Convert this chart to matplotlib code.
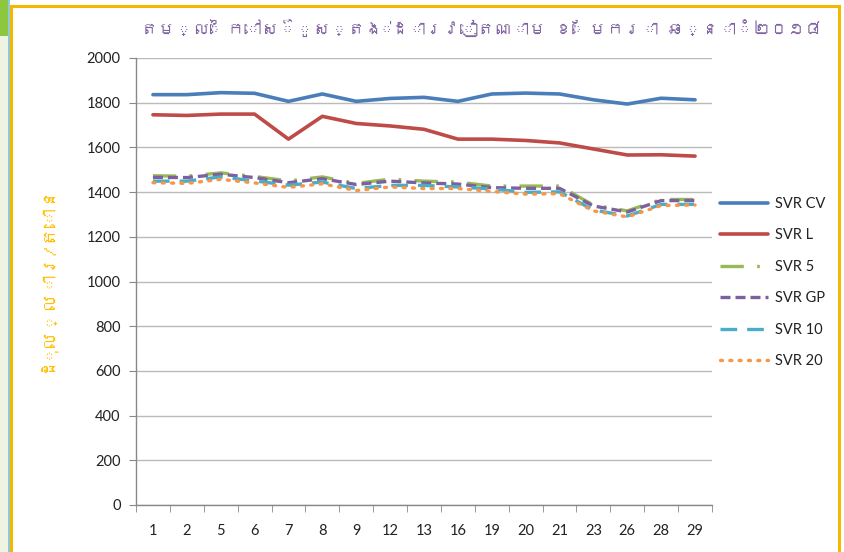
import matplotlib
matplotlib.use("Agg")
import matplotlib.pyplot as plt
from matplotlib import font_manager
from matplotlib.patches import Rectangle
from matplotlib.ft2font import FT2Font

days = ["1", "2", "5", "6", "7", "8", "9", "12", "13", "16", "19", "20", "21", "23", "26", "28", "29"]
svr_cv = [1836, 1836, 1845, 1842, 1806, 1839, 1806, 1819, 1824, 1806, 1839, 1843, 1839, 1813, 1794, 1820, 1813]
svr_l = [1746, 1743, 1749, 1749, 1637, 1739, 1707, 1696, 1681, 1637, 1637, 1631, 1620, 1593, 1566, 1567, 1561]
svr_5 = [1473, 1471, 1486, 1470, 1450, 1468, 1439, 1458, 1449, 1445, 1427, 1427, 1427, 1342, 1316, 1367, 1367]
svr_gp = [1466, 1465, 1480, 1465, 1442, 1460, 1434, 1449, 1441, 1436, 1420, 1417, 1417, 1338, 1311, 1362, 1362]
svr_10 = [1449, 1449, 1468, 1450, 1431, 1445, 1416, 1430, 1430, 1423, 1414, 1399, 1401, 1320, 1293, 1345, 1345]
svr_20 = [1442, 1439, 1457, 1441, 1421, 1437, 1407, 1423, 1416, 1416, 1403, 1391, 1393, 1316, 1289, 1340, 1342]
series_names = ["SVR CV", "SVR L", "SVR 5", "SVR GP", "SVR 10", "SVR 20"]
y_ticks = [0, 200, 400, 600, 800, 1000, 1200, 1400, 1600, 1800, 2000]
title = "តម្លៃកៅស៊ូស្តង់ដារវៀតណាម ខែមករា ឆ្នាំ២០១៨"
ylabel = "ដុល្លារ/តោន"

# find a font with Khmer glyphs if any is installed
khmer_family = None
for f in font_manager.findSystemFonts():
    try:
        ft = FT2Font(f)
        cm = ft.get_charmap()
        if 0x1780 in cm and 0x17D2 in cm:
            khmer_family = font_manager.FontProperties(fname=f).get_name()
            font_manager.fontManager.addfont(f)
            break
    except Exception:
        pass
kfam = [khmer_family, "DejaVu Sans"] if khmer_family else ["DejaVu Sans"]

plt.rcParams["font.family"] = ["Lato", "DejaVu Sans"]

fig = plt.figure(figsize=(8.45, 5.52), dpi=100)
fig.patch.set_facecolor("white")
ax = fig.add_axes([136 / 845, 47 / 552, 576 / 845, 447 / 552])

x = list(range(len(days)))
styles = [
    dict(color="#4A7EBB", lw=2.6, ls="-"),
    dict(color="#BE4B48", lw=2.6, ls="-"),
    dict(color="#98B954", lw=2.4, ls=(0, (7, 4, 0.8, 4))),
    dict(color="#7D60A0", lw=2.4, ls=(0, (3, 1.5))),
    dict(color="#4BACC6", lw=2.4, ls=(0, (5, 3))),
    dict(color="#F79646", lw=2.4, ls=(0, (0.6, 2.2)), dash_capstyle="round"),
]
for vals, name, st in zip([svr_cv, svr_l, svr_5, svr_gp, svr_10, svr_20], series_names, styles):
    ax.plot(x, vals, label=name, solid_capstyle="round", **st)

ax.set_xlim(-0.5, len(days) - 0.5)
ax.set_ylim(0, 2000)
ax.set_yticks(y_ticks)
ax.set_yticklabels([str(v) for v in y_ticks], fontsize=10.5, color="#222222")
ax.set_xticks(x)
ax.set_xticklabels(days, fontsize=10.5, color="#222222")
ax.set_xticks([i - 0.5 for i in range(len(days) + 1)], minor=True)
ax.tick_params(axis="x", which="major", length=0, pad=14)
ax.tick_params(axis="x", which="minor", length=5, color="#888888", direction="out")
ax.tick_params(axis="y", length=5, color="#888888", direction="out", pad=6)
ax.grid(axis="y", color="#BBBBBB", lw=1)
ax.set_axisbelow(True)
for s in ["top", "right"]:
    ax.spines[s].set_visible(False)
for s in ["left", "bottom"]:
    ax.spines[s].set_color("#888888")
    ax.spines[s].set_linewidth(1)

leg = ax.legend(loc="upper left", bbox_to_anchor=(720 / 845, 1 - 197 / 552), bbox_transform=fig.transFigure,
                frameon=False, fontsize=10.5, handlelength=3.3, handletextpad=0.45, labelspacing=1.2,
                borderaxespad=0, borderpad=0)
for t in leg.get_texts():
    t.set_color("#222222")

ttl = fig.text(482 / 845, 1 - 28 / 552, title, ha="center", va="center", fontsize=20, color="#8064A2",
               family=kfam, fontweight="bold")
yl = fig.text(45 / 845, 1 - 278 / 552, ylabel, ha="center", va="center", rotation=90, fontsize=14,
              color="#FFC000", family=kfam)

# scale texts to fit the room they take in the reference
fig.canvas.draw()
r = fig.canvas.get_renderer()
w = ttl.get_window_extent(r).width
ttl.set_fontsize(min(20, 20 * 680 / w))
h = yl.get_window_extent(r).height
yl.set_fontsize(min(14, 14 * 190 / h))

# surrounding frame and spreadsheet edge
fig.patches.append(Rectangle((11 / 845, -0.01), 828 / 845, 1 - 6 / 552 + 0.01, transform=fig.transFigure,
                             fill=False, ec="#F5B800", lw=2.2))
fig.patches.append(Rectangle((0, 1 - 36 / 552), 8 / 845, 36 / 552, transform=fig.transFigure,
                             fc="#8DC63F", ec="none"))
fig.patches.append(Rectangle((0, 0), 8 / 845, 1 - 36 / 552, transform=fig.transFigure,
                             fc="#EEF3E2", ec="none"))
fig.patches.append(Rectangle((8 / 845, 0), 2 / 845, 1, transform=fig.transFigure,
                             fc="#8FC9DC", ec="none"))

fig.savefig("out.png", dpi=100, facecolor="white")
